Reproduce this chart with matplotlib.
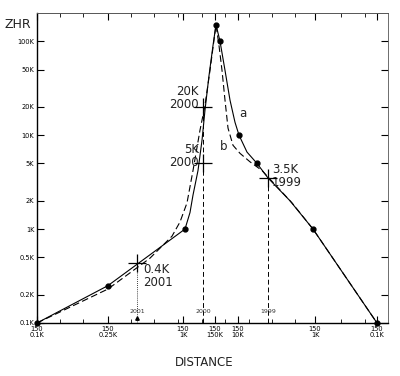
import matplotlib
matplotlib.use("Agg")
import matplotlib.pyplot as plt
from matplotlib.ticker import FixedLocator, NullFormatter

# ---- data (distance in arbitrary units, ZHR in thousands) ----
dist_a = [0, 71, 148, 153, 156, 161, 165, 168, 172, 176, 179, 183, 188, 193, 198, 202, 210, 220, 231, 253, 276, 340]
zhr_a = [0.1, 0.25, 1.0, 1.5, 2.3, 4.2, 8.8, 18.5, 43, 90, 150, 100, 49, 23.6, 13.7, 10, 6.6, 5, 3.5, 2.0, 1.0, 0.1]

dist_b = [0, 71, 113, 135, 143, 150, 156, 163, 168, 173, 179, 182, 185, 188, 191, 196, 203, 213, 225, 233, 255, 276, 340]
zhr_b = [0.1, 0.23, 0.49, 0.84, 1.19, 1.9, 4.2, 11.3, 20.8, 49, 150, 90, 49, 23.6, 11.9, 7.8, 6.4, 5.2, 4.2, 3.4, 1.9, 1.0, 0.1]

dot_dist = [0, 71, 148, 179, 183, 202, 220, 276, 340]
dot_zhr = [0.1, 0.25, 1.0, 150, 100, 10, 5, 1.0, 0.1]

cross_dist = [100, 166, 166, 231]
cross_zhr = [0.43, 20, 5, 3.5]
cross_text = ["0.4K\n2001", "20K\n2000", "5K\n2000", "3.5K\n1999"]

year_dist = [100, 166, 231]
year_top = [0.43, 20, 3.5]
year_labels = ["2001", "2000", "1999"]

ytick_vals = [0.1, 0.2, 0.5, 1, 2, 5, 10, 20, 50, 100]
ytick_labels = ["0.1K", "0.2K", "0.5K", "1K", "2K", "5K", "10K", "20K", "50K", "100K"]

xtick_vals = [0, 71, 146, 178, 201, 278, 340]
xtick_labels = ["150\n0.1K", "150\n0.25K", "150\n1K", "150\n150K", "150\n10K", "150\n1K", "150\n0.1K"]
xminor = [23, 46, 94, 117, 141, 165, 188, 212, 235, 258, 304, 328]

fig = plt.figure(figsize=(4.0, 3.76), dpi=100)
ax = fig.add_axes([0.0925, 0.141, 0.8775, 0.824])

ax.set_yscale("log")
ax.set_xlim(0, 351)
ax.set_ylim(0.1, 199)

# curves
ax.plot(dist_a, zhr_a, color="black", lw=0.8, zorder=3)
ax.plot(dist_b, zhr_b, color="black", lw=0.8, ls=(0, (6, 3)), zorder=3)
ax.plot(dot_dist, dot_zhr, "o", color="black", ms=3.5, zorder=4, clip_on=False)

# vertical markers
ax.plot([year_dist[0], year_dist[0]], [0.1, year_top[0]], color="black", lw=0.6, ls=(0, (1, 1.5)))
ax.plot([year_dist[1], year_dist[1]], [0.1, year_top[1]], color="black", lw=0.7, ls=(0, (5, 3)))
ax.plot([year_dist[2], year_dist[2]], [0.1, year_top[2]], color="black", lw=0.7, ls=(0, (5, 3)))

# crosses
ax.plot(cross_dist, cross_zhr, "+", color="black", ms=13, mew=0.9, zorder=5)

fs = 8.5
ax.text(cross_dist[0] + 6, cross_zhr[0], cross_text[0], ha="left", va="top", fontsize=fs,
        linespacing=1.0, color="#222222")
ax.text(cross_dist[1] - 4, cross_zhr[1] * 1.25, cross_text[1], ha="right", va="center", fontsize=fs,
        linespacing=1.0, color="#222222")
ax.text(cross_dist[2] - 4, cross_zhr[2] * 1.2, cross_text[2], ha="right", va="center", fontsize=fs,
        linespacing=1.0, color="#222222")
ax.text(cross_dist[3] + 4, cross_zhr[3] * 1.05, cross_text[3], ha="left", va="center", fontsize=fs,
        linespacing=1.0, color="#222222")

ax.text(206, 17, "a", fontsize=fs, ha="center", va="center", color="#222222")
ax.text(187, 7.6, "b", fontsize=fs, ha="center", va="center", color="#222222")

for xd, lab in zip(year_dist, year_labels):
    ax.text(xd, 0.132, lab, fontsize=4.5, ha="center", va="center", color="#333333")
ax.plot([year_dist[0]], [0.113], marker="^", color="black", ms=2.5)

# axes styling
ax.yaxis.set_major_locator(FixedLocator(ytick_vals))
ax.yaxis.set_minor_locator(FixedLocator([]))
ax.set_yticklabels(ytick_labels)
ax.yaxis.set_minor_formatter(NullFormatter())
ax.set_xticks(xtick_vals)
ax.set_xticklabels(xtick_labels)
ax.set_xticks(xminor, minor=True)
ax.tick_params(axis="both", which="major", direction="in", length=5, width=0.8,
               labelsize=4.8, top=True, right=True, pad=2)
ax.tick_params(axis="both", which="minor", direction="in", length=3, width=0.6, top=True, right=False)
for lab in ax.get_xticklabels():
    lab.set_linespacing(1.1)

for side in ["left", "bottom"]:
    ax.spines[side].set_linewidth(1.0)
ax.spines["top"].set_linewidth(0.7)
ax.spines["top"].set_color("#555555")
ax.spines["right"].set_linewidth(0.6)
ax.spines["right"].set_linestyle((0, (1, 1)))
ax.spines["right"].set_color("#555555")

fig.text(0.012, 0.935, "ZHR", fontsize=9, ha="left", va="center", color="#222222")
fig.text(0.51, 0.035, "DISTANCE", fontsize=8.5, ha="center", va="center", color="#222222")

fig.savefig("out.png", dpi=100)
